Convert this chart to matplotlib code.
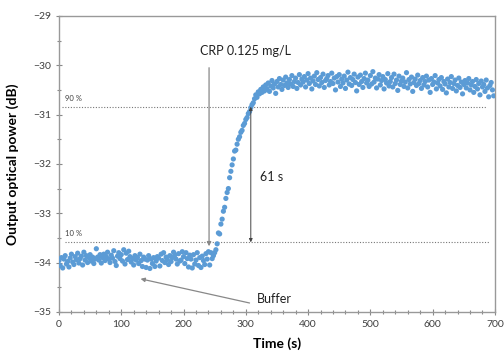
import numpy as np
import matplotlib
matplotlib.use("Agg")
import matplotlib.pyplot as plt
from matplotlib.ticker import MultipleLocator

plt.rcParams['font.family'] = ['Lato', 'DejaVu Sans']

# Sampling times (s), every 2 s
time_s = np.arange(0, 700, 2)

# Buffer baseline (t = 0 .. 248 s)
baseline_db = [
    -33.96, -34.06, -33.90, -34.11, -33.93, -33.86, -34.03, -33.98, -34.09, -33.91,
    -33.83, -33.99, -34.04, -33.88, -33.94, -33.81, -34.01, -33.92, -33.87, -34.05,
    -33.79, -33.95, -33.86, -34.00, -33.90, -33.84, -33.97, -33.89, -34.02, -33.93,
    -33.72, -33.89, -33.95, -33.84, -34.01, -33.90, -33.83, -33.96, -33.88, -33.79,
    -33.93, -34.00, -33.85, -33.91, -33.76, -33.98, -34.06, -33.87, -33.80, -33.92,
    -33.84, -33.97, -33.74, -34.03, -33.81, -33.94, -33.77, -33.88, -33.99, -33.92,
    -34.05, -33.86, -33.95, -33.90, -34.02, -33.83, -33.96, -34.08, -33.89, -33.93,
    -34.10, -33.95, -33.86, -34.12, -33.93, -34.02, -33.90, -34.08, -33.97, -33.88,
    -33.91, -34.07, -33.83, -33.96, -33.80, -34.00, -33.89, -33.94, -34.04, -33.86,
    -33.98, -33.90, -33.79, -33.85, -33.93, -34.03, -33.82, -33.97, -33.95, -33.78,
    -33.88, -34.02, -33.80, -33.92, -34.09, -33.85, -33.93, -34.11, -33.84, -34.03,
    -33.95, -33.80, -34.06, -33.90, -34.10, -33.87, -33.96, -34.04, -33.82, -33.93,
    -33.78, -34.05, -33.80, -33.92, -33.86,
]
# Rise after CRP injection (t = 250 .. 310 s)
rise_db = [
    -33.80, -33.74, -33.62, -33.40, -33.42, -33.22, -33.12, -32.96, -32.88, -32.70,
    -32.58, -32.50, -32.28, -32.15, -32.02, -31.90, -31.74, -31.72, -31.60, -31.50,
    -31.45, -31.36, -31.32, -31.22, -31.18, -31.10, -31.06, -30.98, -30.94, -30.86,
    -30.80,
]
# Plateau (t = 312 .. 698 s)
plateau_db = [
    -30.76, -30.68, -30.60, -30.65, -30.54, -30.58, -30.49, -30.55, -30.44, -30.52,
    -30.40, -30.48, -30.36, -30.53, -30.42, -30.31, -30.46, -30.38, -30.57, -30.33,
    -30.44, -30.27, -30.39, -30.49, -30.30, -30.41, -30.24, -30.36, -30.45, -30.29,
    -30.38, -30.21, -30.43, -30.33, -30.26, -30.47, -30.35, -30.19, -30.40, -30.28,
    -30.34, -30.23, -30.44, -30.30, -30.17, -30.37, -30.26, -30.48, -30.32, -30.22,
    -30.39, -30.15, -30.29, -30.42, -30.25, -30.35, -30.18, -30.45, -30.31, -30.27,
    -30.21, -30.40, -30.33, -30.16, -30.37, -30.26, -30.50, -30.23, -30.34, -30.19,
    -30.43, -30.28, -30.36, -30.22, -30.47, -30.30, -30.14, -30.38, -30.25, -30.41,
    -30.29, -30.18, -30.35, -30.52, -30.24, -30.39, -30.20, -30.33, -30.45, -30.27,
    -30.16, -30.36, -30.30, -30.43, -30.21, -30.38, -30.13, -30.34, -30.26, -30.46,
    -30.28, -30.19, -30.40, -30.31, -30.23, -30.48, -30.29, -30.36, -30.17, -30.42,
    -30.33, -30.25, -30.44, -30.18, -30.37, -30.30, -30.51, -30.22, -30.39, -30.32,
    -30.26, -30.43, -30.34, -30.15, -30.46, -30.29, -30.38, -30.24, -30.53, -30.35,
    -30.28, -30.41, -30.20, -30.37, -30.31, -30.47, -30.25, -30.40, -30.33, -30.22,
    -30.44, -30.30, -30.55, -30.27, -30.39, -30.34, -30.21, -30.48, -30.36, -30.29,
    -30.42, -30.25, -30.49, -30.33, -30.38, -30.56, -30.28, -30.44, -30.35, -30.23,
    -30.47, -30.37, -30.30, -30.52, -30.41, -30.26, -30.45, -30.34, -30.58, -30.39,
    -30.31, -30.46, -30.36, -30.27, -30.50, -30.40, -30.33, -30.55, -30.43, -30.29,
    -30.48, -30.37, -30.60, -30.32, -30.44, -30.39, -30.53, -30.30, -30.46, -30.64,
    -30.41, -30.35, -30.50, -30.62,
]
power_db = np.array(baseline_db + rise_db + plateau_db)

level_90 = -30.84
level_10 = -33.59
t_inject = 241
t_90 = 308

fig = plt.figure(figsize=(5.04, 3.54), dpi=100)
ax = fig.add_axes([0.117, 0.119, 0.865, 0.836])

ax.scatter(time_s, power_db, s=14, color='#5B9BD5', edgecolors='none', zorder=3)

ax.set_xlim(0, 700)
ax.set_ylim(-35, -29)
ax.xaxis.set_major_locator(MultipleLocator(100))
ax.xaxis.set_minor_locator(MultipleLocator(20))
ax.yaxis.set_major_locator(MultipleLocator(1))
ax.yaxis.set_minor_locator(MultipleLocator(0.5))
ax.tick_params(which='both', direction='inout', colors='#888888', labelcolor='#404040',
               labelsize=7.5, width=0.8)
ax.tick_params(which='major', length=4)
ax.tick_params(which='minor', length=3)
for sp in ax.spines.values():
    sp.set_color('#999999')
    sp.set_linewidth(1.0)

ax.set_xlabel('Time (s)', fontsize=10, fontweight='bold', labelpad=6)
ax.set_ylabel('Output optical power (dB)', fontsize=10, fontweight='bold', labelpad=10)

# threshold lines
ax.hlines(level_90, 5, 685, colors='#777777', linestyles=(0, (1, 1.5)), linewidth=0.8, zorder=2)
ax.hlines(level_10, 10, 690, colors='#777777', linestyles=(0, (1, 1.5)), linewidth=0.8, zorder=2)
ax.text(10, level_90 + 0.1, '90 %', fontsize=5.5, color='#404040', va='bottom')
ax.text(10, level_10 + 0.1, '10 %', fontsize=5.5, color='#404040', va='bottom')

# CRP injection arrow
ax.annotate('', xy=(t_inject, level_10 - 0.08), xytext=(t_inject, -30.05),
            arrowprops=dict(arrowstyle='-|>', color='#888888', lw=0.9,
                            mutation_scale=6, shrinkA=0, shrinkB=0), zorder=4)
ax.text(299, -29.71, 'CRP 0.125 mg/L', fontsize=9, color='#222222', ha='center', va='center')

# response time double arrow
ax.annotate('', xy=(t_90, level_10), xytext=(t_90, level_90),
            arrowprops=dict(arrowstyle='<|-|>', color='#444444', lw=0.7,
                            mutation_scale=5, shrinkA=0, shrinkB=0), zorder=4)
ax.text(322, -32.27, '61 s', fontsize=9, color='#222222', ha='left', va='center')

# Buffer arrow
ax.annotate('', xy=(131, -34.33), xytext=(306, -34.82),
            arrowprops=dict(arrowstyle='-|>', color='#888888', lw=0.9,
                            mutation_scale=6, shrinkA=0, shrinkB=0), zorder=4)
ax.text(318, -34.74, 'Buffer', fontsize=9, color='#222222', ha='left', va='center')

fig.savefig('out.png', dpi=100)
